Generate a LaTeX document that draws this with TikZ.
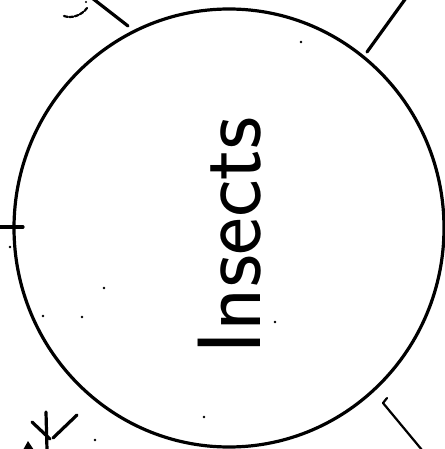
\documentclass[tikz,border=0pt]{standalone}
\tikzset{
  ink/.style={line width=3.2pt, line cap=round, line join=round, black},
  thinink/.style={line width=2.2pt, line cap=round, line join=round, black},
  speck/.style={fill=black, draw=none},
  label/.style={font=\sffamily\fontsize{90}{90}\selectfont, inner sep=0pt, rotate=90}
}
\begin{document}
\begin{tikzpicture}[x=1pt, y=-1pt]
\useasboundingbox (0,0) rectangle (444,449);
% main circle
\coordinate (ctr) at (229,228);
\draw[ink] (ctr) ellipse [x radius=215, y radius=219];
% label
\node[label] (txt) at (230,236) {Insects};
% radiating strokes
\coordinate (tl1) at (92,-2);   \coordinate (tl2) at (128,26);
\coordinate (tr1) at (406,-2);  \coordinate (tr2) at (367,52);
\coordinate (l1)  at (-2,227);  \coordinate (l2)  at (23,227);
\coordinate (br1) at (387,398); \coordinate (br2) at (383,403); \coordinate (br3) at (422,450);
\draw[ink] (tl1) -- (tl2);
\draw[ink] (tr1) -- (tr2);
\draw[ink] (l1) -- (l2);
\draw[thinink] (br1) -- (br2) -- (br3);
% small curved fragment top left
\draw[thinink, dash pattern=on 4pt off 1.5pt] (64,16) .. controls (72,19) and (82,15) .. (87,8);
\fill (86,2) circle (1.2);
% bottom-left marks
\draw[ink] (32,422) -- (50,439);
\draw[ink] (46,412) -- (47,450);
\draw[ink] (77,415) -- (53,438);
\fill (28,441) -- (23,450) -- (34,450) -- cycle;
% specks
\foreach \p in {(301,42),(104,288),(43,316),(82,317),(275,322),(204,417),(95,440),(10,247)}
  \fill[speck] \p circle (1.4);
\end{tikzpicture}
\end{document}
